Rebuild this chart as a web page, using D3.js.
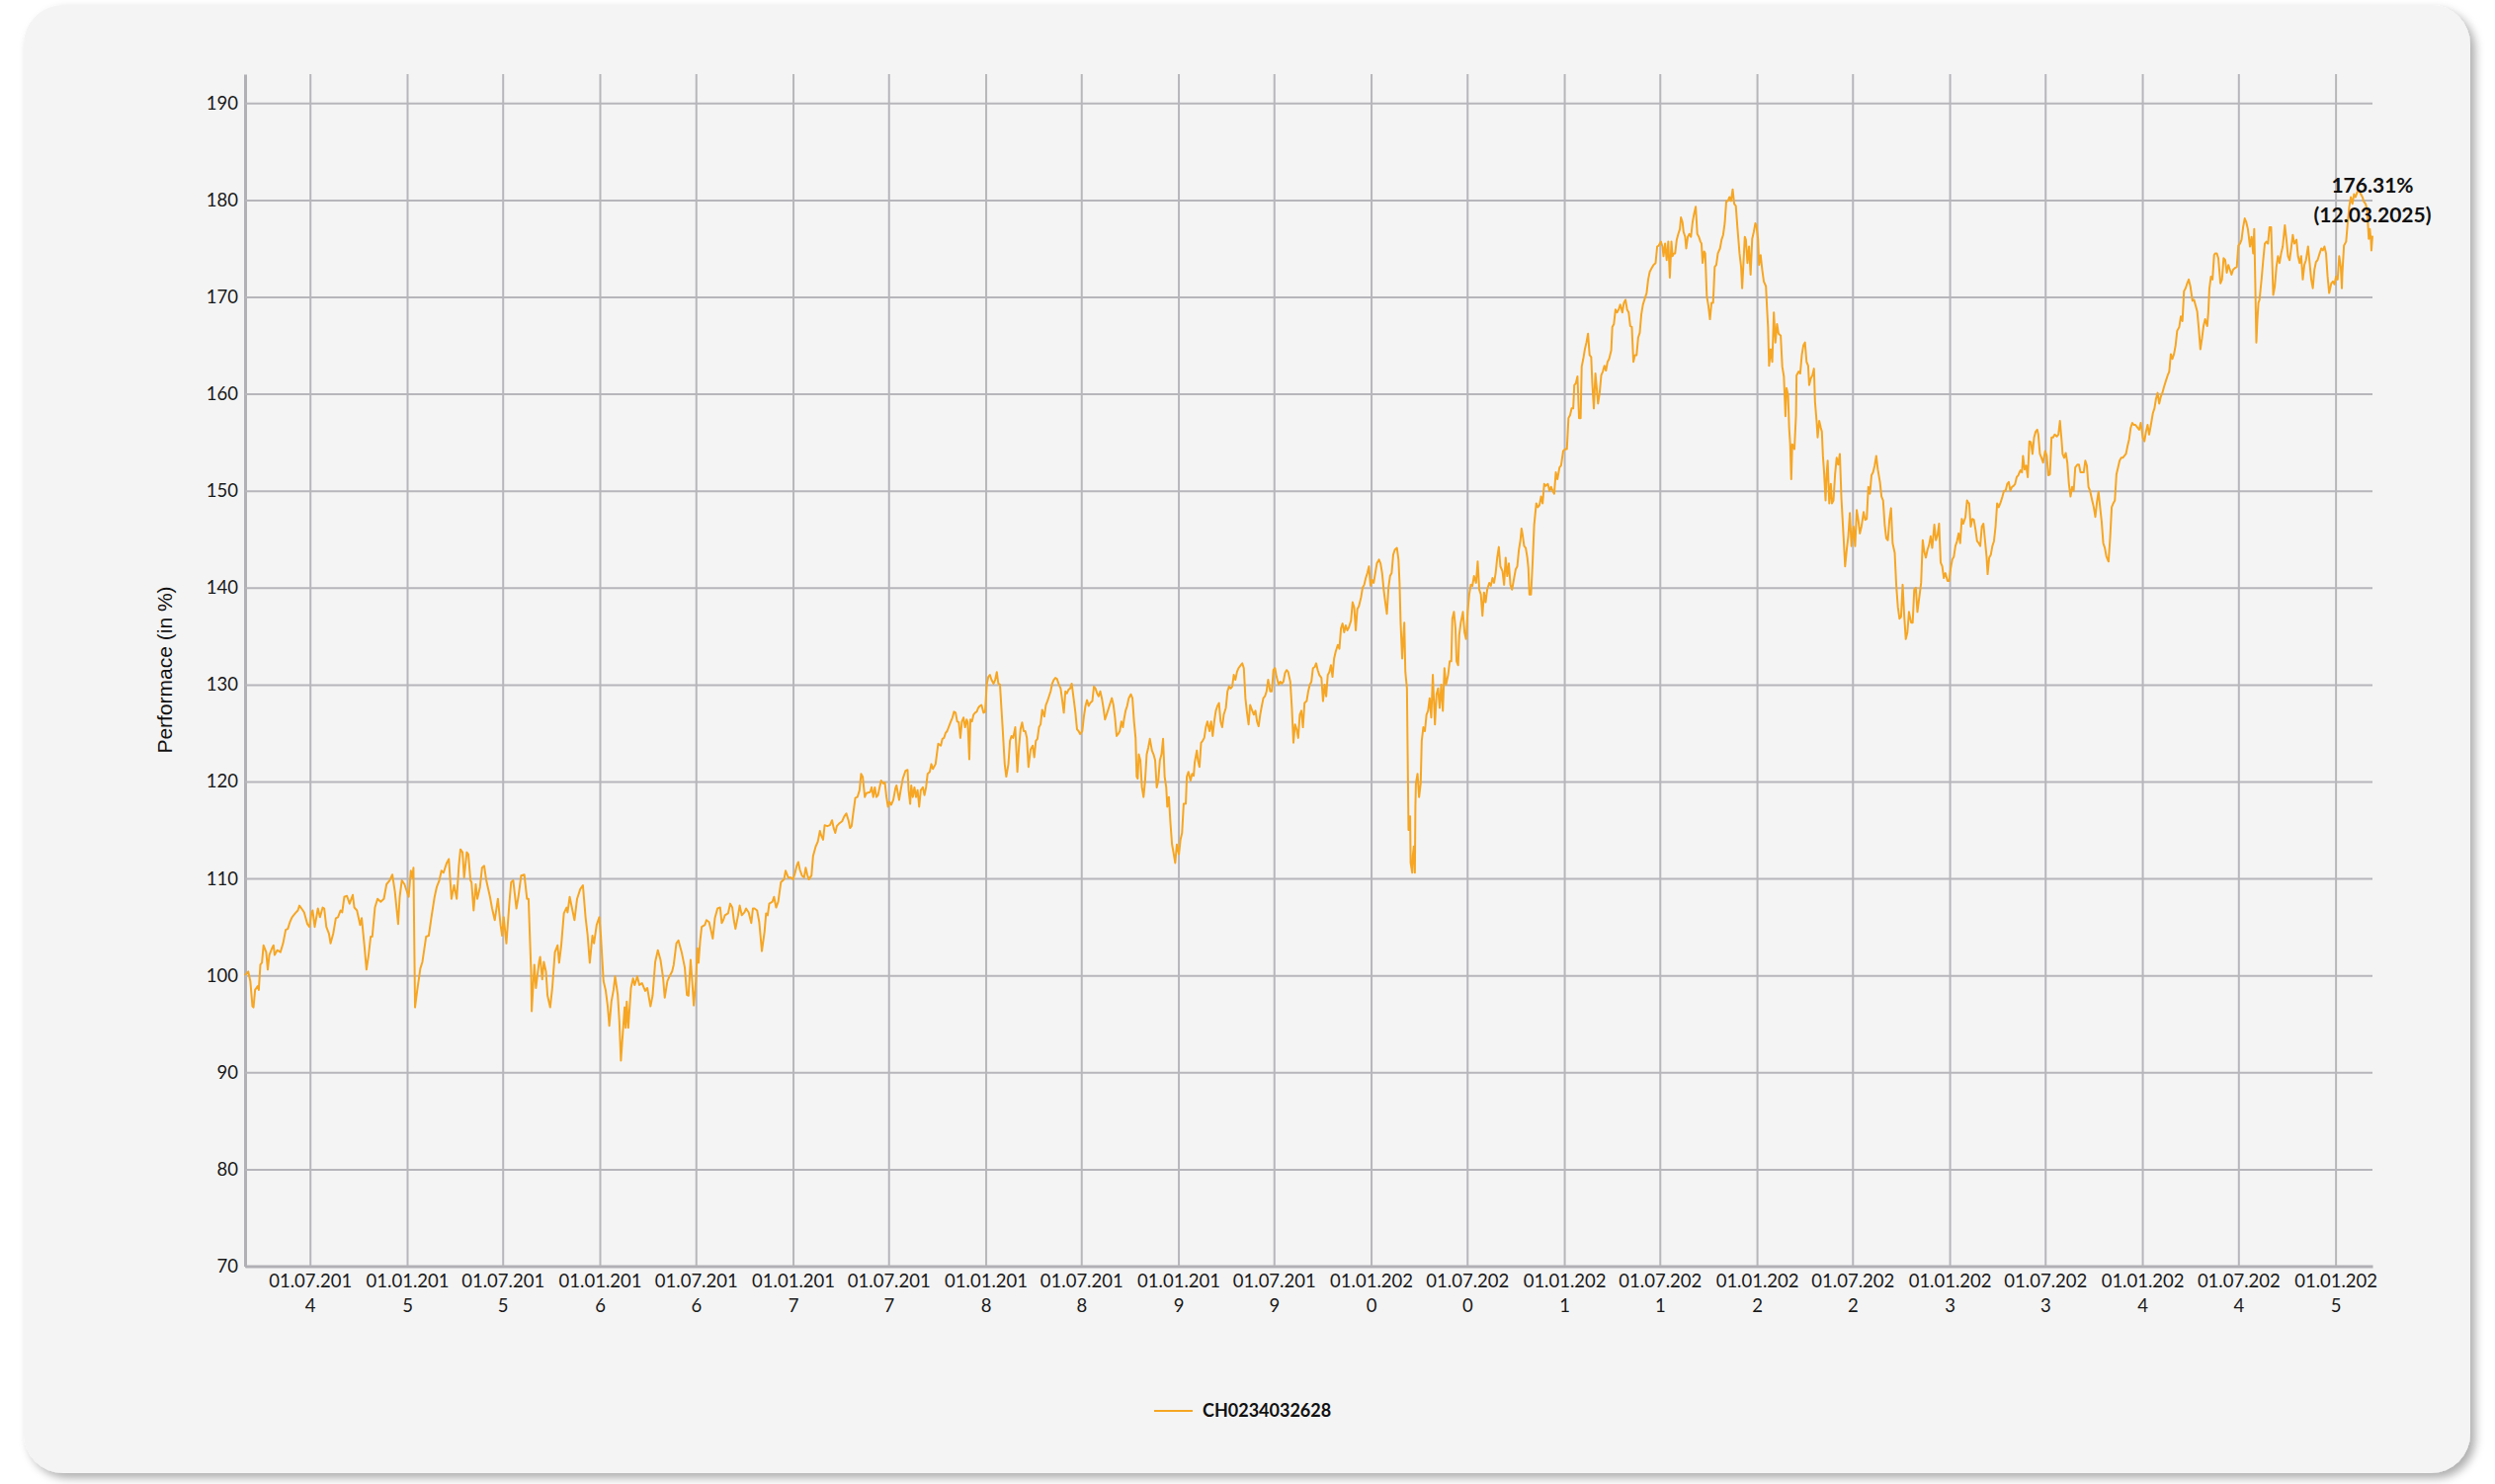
<!DOCTYPE html>
<html>
<head>
<meta charset="utf-8">
<script src="https://cdn.jsdelivr.net/npm/d3@7"></script>
<style>
  body { margin: 0; background: #ffffff; }
  svg { display: block; }
</style>
</head>
<body>
<div id="chart"></div>
<script>
// performance series (in %), one list per year: [date, value]
var s2014 = [["2014-02-28",100.0],["2014-03-06",100.4],["2014-03-10",99.4],["2014-03-14",96.8],["2014-03-16",96.7],["2014-03-19",98.5],["2014-03-24",98.9],["2014-03-26",98.5],["2014-03-29",101.1],["2014-04-01",101.3],["2014-04-04",103.1],["2014-04-09",102.4],["2014-04-12",100.6],["2014-04-15",102.1],["2014-04-20",102.8],["2014-04-23",103.1],["2014-04-25",102.1],["2014-04-30",102.6],["2014-05-06",102.4],["2014-05-11",103.3],["2014-05-16",104.7],["2014-05-20",104.8],["2014-05-24",105.5],["2014-05-28",106.0],["2014-06-03",106.4],["2014-06-08",106.7],["2014-06-11",107.2],["2014-06-15",106.9],["2014-06-20",106.5],["2014-06-26",105.3],["2014-06-30",105.0],["2014-07-04",106.5],["2014-07-06",106.7],["2014-07-10",105.0],["2014-07-16",106.9],["2014-07-20",106.0],["2014-07-25",107.0],["2014-07-28",106.9],["2014-08-01",105.0],["2014-08-06",104.3],["2014-08-09",103.3],["2014-08-14",104.3],["2014-08-19",105.9],["2014-08-23",106.0],["2014-08-28",106.7],["2014-08-31",106.5],["2014-09-04",108.1],["2014-09-09",108.2],["2014-09-14",107.4],["2014-09-20",108.3],["2014-09-23",107.0],["2014-09-28",106.7],["2014-10-04",105.2],["2014-10-07",105.9],["2014-10-12",103.1],["2014-10-16",100.6],["2014-10-20",102.1],["2014-10-24",104.0],["2014-10-27",104.0],["2014-11-01",107.0],["2014-11-06",107.9],["2014-11-12",107.6],["2014-11-18",107.9],["2014-11-23",109.4],["2014-11-29",109.8],["2014-12-04",110.4],["2014-12-09",108.6],["2014-12-15",105.3],["2014-12-18",108.1],["2014-12-22",109.8],["2014-12-27",109.4]];
var s2015 = [["2015-01-04",108.1],["2015-01-08",110.8],["2015-01-11",110.1],["2015-01-13",111.1],["2015-01-16",96.7],["2015-01-20",98.4],["2015-01-26",100.7],["2015-01-30",101.4],["2015-02-06",104.0],["2015-02-11",104.1],["2015-02-16",106.0],["2015-02-22",108.1],["2015-02-26",109.1],["2015-03-03",109.8],["2015-03-07",110.8],["2015-03-11",110.6],["2015-03-17",111.6],["2015-03-21",112.0],["2015-03-26",107.9],["2015-03-31",109.3],["2015-04-05",107.9],["2015-04-09",111.3],["2015-04-12",113.0],["2015-04-16",112.7],["2015-04-19",110.1],["2015-04-24",112.7],["2015-04-27",112.5],["2015-05-01",109.8],["2015-05-03",109.6],["2015-05-07",106.7],["2015-05-11",109.4],["2015-05-14",107.9],["2015-05-19",109.1],["2015-05-23",111.1],["2015-05-27",111.3],["2015-05-31",109.8],["2015-06-07",108.1],["2015-06-11",106.9],["2015-06-16",105.7],["2015-06-22",107.9],["2015-06-27",105.2],["2015-06-30",104.1],["2015-07-03",106.0],["2015-07-08",103.3],["2015-07-11",105.5],["2015-07-14",107.7],["2015-07-17",109.6],["2015-07-21",109.8],["2015-07-27",106.9],["2015-07-31",108.2],["2015-08-05",110.3],["2015-08-11",110.4],["2015-08-16",107.9],["2015-08-19",107.9],["2015-08-24",100.1],["2015-08-25",96.3],["2015-08-30",101.1],["2015-09-02",98.7],["2015-09-08",101.4],["2015-09-10",101.9],["2015-09-14",99.6],["2015-09-17",101.4],["2015-09-21",100.4],["2015-09-24",97.9],["2015-09-29",96.7],["2015-10-03",98.7],["2015-10-08",102.4],["2015-10-13",103.1],["2015-10-16",101.3],["2015-10-20",103.1],["2015-10-25",106.4],["2015-10-30",107.0],["2015-11-01",106.5],["2015-11-05",108.1],["2015-11-14",105.7],["2015-11-19",107.9],["2015-11-25",108.9],["2015-11-30",109.3],["2015-12-05",106.0],["2015-12-09",104.1],["2015-12-13",101.3],["2015-12-18",104.1],["2015-12-21",103.3],["2015-12-26",105.2],["2015-12-31",106.0]];
var s2016 = [["2016-01-03",104.1],["2016-01-08",99.4],["2016-01-12",98.5],["2016-01-16",96.8],["2016-01-19",94.8],["2016-01-23",97.3],["2016-01-27",98.5],["2016-01-30",99.9],["2016-02-04",98.0],["2016-02-07",95.3],["2016-02-10",91.2],["2016-02-13",93.6],["2016-02-17",96.7],["2016-02-19",94.6],["2016-02-21",97.3],["2016-02-24",94.6],["2016-02-29",98.7],["2016-03-04",99.7],["2016-03-07",99.0],["2016-03-12",99.9],["2016-03-16",99.0],["2016-03-21",99.2],["2016-03-27",98.4],["2016-03-31",98.7],["2016-04-06",96.8],["2016-04-10",97.9],["2016-04-15",101.4],["2016-04-20",102.6],["2016-04-25",101.6],["2016-04-30",99.7],["2016-05-03",97.7],["2016-05-08",99.4],["2016-05-12",99.9],["2016-05-17",100.4],["2016-05-20",101.1],["2016-05-25",103.3],["2016-05-29",103.6],["2016-06-04",102.4],["2016-06-10",100.8],["2016-06-14",98.0],["2016-06-17",97.9],["2016-06-21",101.6],["2016-06-24",99.4],["2016-06-27",96.9],["2016-07-01",99.4],["2016-07-04",102.8],["2016-07-06",101.3],["2016-07-09",103.5],["2016-07-12",105.0],["2016-07-18",105.2],["2016-07-21",105.7],["2016-07-26",105.5],["2016-07-29",104.8],["2016-08-02",103.8],["2016-08-06",105.9],["2016-08-11",106.9],["2016-08-16",107.0],["2016-08-19",105.4],["2016-08-22",105.7],["2016-08-25",106.2],["2016-08-31",106.4],["2016-09-04",107.4],["2016-09-08",107.0],["2016-09-11",105.7],["2016-09-14",104.8],["2016-09-19",106.2],["2016-09-22",107.2],["2016-09-26",106.2],["2016-10-01",106.5],["2016-10-04",106.9],["2016-10-09",106.5],["2016-10-14",105.4],["2016-10-17",106.9],["2016-10-20",106.9],["2016-10-25",106.7],["2016-10-29",105.5],["2016-11-03",102.5],["2016-11-08",104.5],["2016-11-11",106.4],["2016-11-14",106.2],["2016-11-17",107.4],["2016-11-23",107.6],["2016-11-26",108.1],["2016-11-30",107.0],["2016-12-04",107.6],["2016-12-09",109.6],["2016-12-15",109.9],["2016-12-18",110.8],["2016-12-23",110.1],["2016-12-28",110.1]];
var s2017 = [["2017-01-01",109.9],["2017-01-05",110.6],["2017-01-08",111.3],["2017-01-11",111.7],["2017-01-14",110.9],["2017-01-18",110.3],["2017-01-22",110.1],["2017-01-25",111.1],["2017-01-28",110.4],["2017-01-31",109.9],["2017-02-05",110.3],["2017-02-08",112.3],["2017-02-13",113.3],["2017-02-17",113.8],["2017-02-21",114.9],["2017-02-23",114.5],["2017-02-27",114.0],["2017-03-02",115.5],["2017-03-07",115.4],["2017-03-12",115.5],["2017-03-16",116.0],["2017-03-19",115.2],["2017-03-22",114.7],["2017-03-25",115.4],["2017-03-30",115.7],["2017-04-04",115.9],["2017-04-08",116.4],["2017-04-12",116.7],["2017-04-16",116.0],["2017-04-19",115.2],["2017-04-22",115.4],["2017-04-25",116.7],["2017-04-29",118.3],["2017-05-03",118.4],["2017-05-07",119.1],["2017-05-10",120.8],["2017-05-13",120.5],["2017-05-17",118.4],["2017-05-20",118.8],["2017-05-27",118.9],["2017-05-30",119.4],["2017-06-02",118.4],["2017-06-05",119.4],["2017-06-08",118.4],["2017-06-11",118.6],["2017-06-14",119.4],["2017-06-17",120.1],["2017-06-21",119.8],["2017-06-24",119.9],["2017-06-27",118.4],["2017-06-30",117.4],["2017-07-03",117.9],["2017-07-06",117.6],["2017-07-10",118.1],["2017-07-14",119.3],["2017-07-16",119.6],["2017-07-21",118.1],["2017-07-24",119.1],["2017-07-28",120.3],["2017-08-02",121.1],["2017-08-06",121.2],["2017-08-08",119.1],["2017-08-11",117.7],["2017-08-13",119.6],["2017-08-16",118.4],["2017-08-19",119.4],["2017-08-22",118.4],["2017-08-25",119.1],["2017-08-28",117.4],["2017-08-31",119.1],["2017-09-04",119.4],["2017-09-07",118.6],["2017-09-10",119.4],["2017-09-13",120.8],["2017-09-17",121.0],["2017-09-20",121.8],["2017-09-23",121.3],["2017-09-28",121.8],["2017-10-03",123.9],["2017-10-08",123.7],["2017-10-11",124.4],["2017-10-14",124.5],["2017-10-17",125.0],["2017-10-20",125.2],["2017-10-27",126.2],["2017-10-30",126.6],["2017-11-02",127.2],["2017-11-05",127.1],["2017-11-08",126.2],["2017-11-11",126.1],["2017-11-14",124.5],["2017-11-17",126.2],["2017-11-20",126.6],["2017-11-23",125.6],["2017-11-26",126.4],["2017-11-28",126.1],["2017-12-01",122.3],["2017-12-03",126.4],["2017-12-06",126.2],["2017-12-09",126.9],["2017-12-12",127.1],["2017-12-15",127.2],["2017-12-18",127.6],["2017-12-21",127.8],["2017-12-24",127.9],["2017-12-28",127.1],["2017-12-31",127.2]];
var s2018 = [["2018-01-03",130.0],["2018-01-06",130.8],["2018-01-09",131.0],["2018-01-12",130.5],["2018-01-16",130.1],["2018-01-19",130.5],["2018-01-22",131.3],["2018-01-25",130.1],["2018-01-28",130.0],["2018-02-02",125.6],["2018-02-06",121.8],["2018-02-09",120.5],["2018-02-13",121.8],["2018-02-16",124.2],["2018-02-19",124.7],["2018-02-22",124.5],["2018-02-26",125.6],["2018-03-02",121.0],["2018-03-05",123.5],["2018-03-08",125.4],["2018-03-11",126.1],["2018-03-14",125.2],["2018-03-17",125.2],["2018-03-20",124.5],["2018-03-23",121.5],["2018-03-27",123.3],["2018-03-31",123.7],["2018-04-03",122.5],["2018-04-06",124.2],["2018-04-09",124.4],["2018-04-12",125.6],["2018-04-15",125.9],["2018-04-18",127.4],["2018-04-22",126.7],["2018-04-25",127.9],["2018-04-28",128.3],["2018-05-01",128.8],["2018-05-04",129.3],["2018-05-07",130.1],["2018-05-10",130.5],["2018-05-13",130.7],["2018-05-16",130.6],["2018-05-19",130.1],["2018-05-23",129.6],["2018-05-26",128.4],["2018-05-29",127.1],["2018-06-01",129.3],["2018-06-04",129.1],["2018-06-07",129.5],["2018-06-10",129.6],["2018-06-13",130.1],["2018-06-17",128.4],["2018-06-20",127.1],["2018-06-23",125.4],["2018-06-26",125.2],["2018-06-29",124.9],["2018-07-03",125.2],["2018-07-06",126.7],["2018-07-09",127.8],["2018-07-12",128.4],["2018-07-15",127.8],["2018-07-18",128.1],["2018-07-22",128.3],["2018-07-25",129.8],["2018-07-28",129.6],["2018-07-31",129.1],["2018-08-03",128.8],["2018-08-06",129.3],["2018-08-09",128.6],["2018-08-12",127.6],["2018-08-15",126.4],["2018-08-18",126.9],["2018-08-21",127.4],["2018-08-25",128.1],["2018-08-28",128.6],["2018-08-31",127.9],["2018-09-03",126.6],["2018-09-06",124.7],["2018-09-09",124.9],["2018-09-12",125.2],["2018-09-15",126.2],["2018-09-18",125.6],["2018-09-20",126.4],["2018-09-23",127.3],["2018-09-26",127.8],["2018-09-29",128.6],["2018-10-03",129.0],["2018-10-06",128.6],["2018-10-09",126.2],["2018-10-12",124.5],["2018-10-14",120.5],["2018-10-16",120.3],["2018-10-18",122.8],["2018-10-21",122.2],["2018-10-24",119.4],["2018-10-27",118.4],["2018-10-30",120.1],["2018-11-02",122.8],["2018-11-05",123.5],["2018-11-08",124.4],["2018-11-12",123.2],["2018-11-15",122.8],["2018-11-18",122.2],["2018-11-21",119.4],["2018-11-24",120.1],["2018-11-27",122.2],["2018-11-30",122.8],["2018-12-03",124.4],["2018-12-06",120.5],["2018-12-09",119.4],["2018-12-11",117.4],["2018-12-14",118.4],["2018-12-17",115.7],["2018-12-20",113.5],["2018-12-23",112.6],["2018-12-26",111.6],["2018-12-29",113.5]];
var s2019 = [["2019-01-02",112.5],["2019-01-05",114.0],["2019-01-08",114.7],["2019-01-11",117.7],["2019-01-15",117.7],["2019-01-17",120.5],["2019-01-20",121.0],["2019-01-24",120.1],["2019-01-27",120.8],["2019-01-30",120.6],["2019-02-01",122.0],["2019-02-05",123.2],["2019-02-07",122.2],["2019-02-10",121.5],["2019-02-13",124.0],["2019-02-16",124.2],["2019-02-19",124.5],["2019-02-22",125.6],["2019-02-25",126.2],["2019-03-01",125.2],["2019-03-04",126.2],["2019-03-07",124.7],["2019-03-10",126.2],["2019-03-13",127.3],["2019-03-16",127.8],["2019-03-19",128.1],["2019-03-22",126.2],["2019-03-25",125.6],["2019-03-28",126.9],["2019-04-01",127.6],["2019-04-04",129.3],["2019-04-07",129.8],["2019-04-10",129.6],["2019-04-13",129.8],["2019-04-16",131.0],["2019-04-19",130.5],["2019-04-22",131.3],["2019-04-25",131.7],["2019-04-29",132.0],["2019-05-02",132.2],["2019-05-05",131.7],["2019-05-08",128.6],["2019-05-11",127.1],["2019-05-14",125.9],["2019-05-17",127.9],["2019-05-21",127.3],["2019-05-24",126.9],["2019-05-27",127.3],["2019-05-30",126.2],["2019-06-02",125.7],["2019-06-05",126.9],["2019-06-08",127.8],["2019-06-11",128.6],["2019-06-14",128.8],["2019-06-17",129.3],["2019-06-20",130.5],["2019-06-24",129.3],["2019-06-27",129.3],["2019-06-30",131.5],["2019-07-03",131.7],["2019-07-06",130.8],["2019-07-10",130.0],["2019-07-13",130.3],["2019-07-16",130.1],["2019-07-19",130.3],["2019-07-22",131.2],["2019-07-25",131.5],["2019-07-28",131.3],["2019-08-01",130.3],["2019-08-04",127.6],["2019-08-07",124.0],["2019-08-10",125.9],["2019-08-13",125.4],["2019-08-16",124.5],["2019-08-19",126.9],["2019-08-22",127.3],["2019-08-25",125.6],["2019-08-28",128.1],["2019-09-01",128.3],["2019-09-04",129.3],["2019-09-07",130.0],["2019-09-10",130.3],["2019-09-13",131.7],["2019-09-16",131.8],["2019-09-19",132.2],["2019-09-22",131.5],["2019-09-25",131.0],["2019-09-29",130.7],["2019-10-02",128.3],["2019-10-05",130.0],["2019-10-08",128.8],["2019-10-11",131.0],["2019-10-14",131.3],["2019-10-17",132.0],["2019-10-20",130.8],["2019-10-23",132.7],["2019-10-26",133.4],["2019-10-30",134.1],["2019-11-02",133.7],["2019-11-05",135.8],["2019-11-08",136.3],["2019-11-11",135.4],["2019-11-14",136.1],["2019-11-17",135.6],["2019-11-20",135.9],["2019-11-24",136.6],["2019-11-27",138.5],["2019-11-30",138.0],["2019-12-03",135.6],["2019-12-06",137.8],["2019-12-09",138.1],["2019-12-13",139.0],["2019-12-16",140.0],["2019-12-19",140.3],["2019-12-22",141.0],["2019-12-25",141.5],["2019-12-28",142.2],["2019-12-31",140.2]];
var s2020 = [["2020-01-03",140.8],["2020-01-06",140.5],["2020-01-09",141.5],["2020-01-12",142.5],["2020-01-16",142.9],["2020-01-19",142.5],["2020-01-22",141.5],["2020-01-25",139.8],["2020-01-28",138.5],["2020-01-31",137.3],["2020-02-03",140.0],["2020-02-06",141.2],["2020-02-09",141.5],["2020-02-12",143.4],["2020-02-15",143.9],["2020-02-19",144.1],["2020-02-22",142.9],["2020-02-24",140.5],["2020-02-26",136.4],["2020-02-29",132.7],["2020-03-02",134.7],["2020-03-04",136.4],["2020-03-06",131.3],["2020-03-09",129.6],["2020-03-10",124.5],["2020-03-12",115.0],["2020-03-15",116.4],["2020-03-16",111.6],["2020-03-19",110.6],["2020-03-20",112.3],["2020-03-22",113.3],["2020-03-24",110.6],["2020-03-25",117.4],["2020-03-26",119.8],["2020-03-29",120.8],["2020-04-01",118.4],["2020-04-04",119.8],["2020-04-06",124.2],["2020-04-09",125.6],["2020-04-12",125.2],["2020-04-15",126.9],["2020-04-18",127.3],["2020-04-21",128.6],["2020-04-24",126.6],["2020-04-27",131.0],["2020-05-01",125.9],["2020-05-04",129.0],["2020-05-07",129.6],["2020-05-10",127.6],["2020-05-13",130.0],["2020-05-16",127.3],["2020-05-19",131.7],["2020-05-22",130.0],["2020-05-26",131.0],["2020-05-29",132.4],["2020-06-01",132.4],["2020-06-03",136.8],["2020-06-06",137.5],["2020-06-09",135.8],["2020-06-11",132.4],["2020-06-14",132.0],["2020-06-16",135.1],["2020-06-19",136.4],["2020-06-23",137.5],["2020-06-26",135.4],["2020-06-29",134.7],["2020-07-02",137.5],["2020-07-05",139.3],["2020-07-08",140.3],["2020-07-11",140.2],["2020-07-14",141.2],["2020-07-18",140.5],["2020-07-21",142.7],["2020-07-24",139.8],["2020-07-27",139.3],["2020-07-30",137.1],["2020-08-02",139.5],["2020-08-05",138.5],["2020-08-08",139.8],["2020-08-12",140.5],["2020-08-15",140.2],["2020-08-18",141.0],["2020-08-21",140.5],["2020-08-24",141.5],["2020-08-27",143.1],["2020-08-30",144.2],["2020-09-02",142.2],["2020-09-06",141.7],["2020-09-09",140.3],["2020-09-12",143.1],["2020-09-15",141.2],["2020-09-18",142.5],["2020-09-21",140.3],["2020-09-24",139.8],["2020-09-28",141.0],["2020-10-01",141.9],["2020-10-04",142.2],["2020-10-07",143.9],["2020-10-10",144.9],["2020-10-12",146.1],["2020-10-14",145.5],["2020-10-17",144.3],["2020-10-20",144.1],["2020-10-23",143.1],["2020-10-25",142.0],["2020-10-27",139.3],["2020-10-30",139.3],["2020-11-02",142.6],["2020-11-05",146.5],["2020-11-09",148.7],["2020-11-12",148.3],["2020-11-15",148.5],["2020-11-18",149.4],["2020-11-21",148.7],["2020-11-24",150.7],["2020-11-27",150.5],["2020-12-01",150.7],["2020-12-04",150.0],["2020-12-07",150.4],["2020-12-10",150.0],["2020-12-13",149.7],["2020-12-16",151.9],["2020-12-19",151.2],["2020-12-23",152.4],["2020-12-26",152.6],["2020-12-30",154.1]];
var s2021 = [["2021-01-03",154.3],["2021-01-06",154.3],["2021-01-09",157.5],["2021-01-12",157.8],["2021-01-15",158.5],["2021-01-18",158.5],["2021-01-20",160.9],["2021-01-23",161.1],["2021-01-26",161.8],["2021-01-29",157.5],["2021-02-01",157.5],["2021-02-03",162.8],["2021-02-06",163.6],["2021-02-09",164.6],["2021-02-12",165.3],["2021-02-15",166.2],["2021-02-18",164.0],["2021-02-21",163.8],["2021-02-23",161.2],["2021-02-26",158.5],["2021-03-01",162.1],["2021-03-03",160.9],["2021-03-06",159.0],["2021-03-09",160.1],["2021-03-12",161.9],["2021-03-15",162.3],["2021-03-18",162.9],["2021-03-21",162.4],["2021-03-24",163.3],["2021-03-27",163.6],["2021-03-31",164.5],["2021-04-02",166.9],["2021-04-05",167.2],["2021-04-08",168.7],["2021-04-11",168.4],["2021-04-14",168.7],["2021-04-17",169.2],["2021-04-21",168.4],["2021-04-24",169.4],["2021-04-27",169.7],["2021-04-30",168.7],["2021-05-03",168.4],["2021-05-06",167.0],["2021-05-09",166.9],["2021-05-12",163.3],["2021-05-15",164.0],["2021-05-18",164.0],["2021-05-21",165.8],["2021-05-24",166.3],["2021-05-27",168.2],["2021-05-30",169.2],["2021-06-03",169.9],["2021-06-06",170.4],["2021-06-09",171.8],["2021-06-12",172.6],["2021-06-16",173.0],["2021-06-19",173.3],["2021-06-23",173.5],["2021-06-26",175.2],["2021-06-29",175.3],["2021-07-03",175.7],["2021-07-06",175.2],["2021-07-08",174.2],["2021-07-11",175.5],["2021-07-14",173.8],["2021-07-17",175.7],["2021-07-20",172.0],["2021-07-23",175.7],["2021-07-25",174.2],["2021-07-28",174.5],["2021-07-30",174.5],["2021-08-02",175.9],["2021-08-05",176.5],["2021-08-08",177.0],["2021-08-10",178.2],["2021-08-13",177.7],["2021-08-15",176.7],["2021-08-18",176.2],["2021-08-20",175.0],["2021-08-23",176.2],["2021-08-26",176.5],["2021-08-29",176.2],["2021-09-01",177.7],["2021-09-04",178.6],["2021-09-07",179.3],["2021-09-10",176.5],["2021-09-13",176.2],["2021-09-16",175.7],["2021-09-18",175.5],["2021-09-20",173.5],["2021-09-23",174.7],["2021-09-25",174.5],["2021-09-28",170.1],["2021-10-01",169.1],["2021-10-04",167.7],["2021-10-07",169.4],["2021-10-10",169.4],["2021-10-13",173.1],["2021-10-16",173.3],["2021-10-19",174.5],["2021-10-23",175.0],["2021-10-26",175.9],["2021-10-29",176.4],["2021-11-01",177.6],["2021-11-04",179.9],["2021-11-07",179.9],["2021-11-10",180.3],["2021-11-13",179.9],["2021-11-16",181.1],["2021-11-19",179.6],["2021-11-22",179.4],["2021-11-25",177.2],["2021-11-29",174.5],["2021-12-02",173.1],["2021-12-04",170.9],["2021-12-06",173.0],["2021-12-09",176.2],["2021-12-11",175.9],["2021-12-14",173.5],["2021-12-17",175.2],["2021-12-20",172.3],["2021-12-23",176.0],["2021-12-26",176.7],["2021-12-29",177.6],["2021-12-31",177.4]];
var s2022 = [["2022-01-03",176.0],["2022-01-05",173.3],["2022-01-08",174.3],["2022-01-11",172.8],["2022-01-14",171.6],["2022-01-18",171.1],["2022-01-20",168.9],["2022-01-22",166.9],["2022-01-24",162.9],["2022-01-27",164.6],["2022-01-30",163.3],["2022-02-02",168.4],["2022-02-05",165.3],["2022-02-08",167.2],["2022-02-11",166.2],["2022-02-15",166.0],["2022-02-18",162.8],["2022-02-21",161.8],["2022-02-24",157.7],["2022-02-26",160.6],["2022-03-01",159.9],["2022-03-03",156.5],["2022-03-05",154.8],["2022-03-07",151.2],["2022-03-09",154.8],["2022-03-13",154.3],["2022-03-16",157.8],["2022-03-17",161.9],["2022-03-21",162.3],["2022-03-24",162.1],["2022-03-27",164.0],["2022-03-30",165.0],["2022-04-02",165.3],["2022-04-05",163.3],["2022-04-08",162.9],["2022-04-10",160.9],["2022-04-13",161.6],["2022-04-16",161.9],["2022-04-19",162.6],["2022-04-21",159.2],["2022-04-24",157.2],["2022-04-26",155.5],["2022-04-29",157.2],["2022-05-02",156.5],["2022-05-04",156.1],["2022-05-06",153.6],["2022-05-08",152.1],["2022-05-11",149.0],["2022-05-13",151.7],["2022-05-15",153.1],["2022-05-18",148.7],["2022-05-21",150.7],["2022-05-23",148.7],["2022-05-26",149.0],["2022-05-29",151.7],["2022-06-01",153.4],["2022-06-04",152.7],["2022-06-07",153.8],["2022-06-10",149.2],["2022-06-14",145.3],["2022-06-17",142.2],["2022-06-20",143.9],["2022-06-23",145.3],["2022-06-26",147.7],["2022-06-29",144.3],["2022-07-03",146.3],["2022-07-06",144.3],["2022-07-09",148.0],["2022-07-12",147.0],["2022-07-15",145.6],["2022-07-18",146.3],["2022-07-22",147.8],["2022-07-25",147.0],["2022-07-28",147.1],["2022-07-31",150.4],["2022-08-03",149.7],["2022-08-06",151.6],["2022-08-09",151.9],["2022-08-12",152.6],["2022-08-15",153.6],["2022-08-18",152.2],["2022-08-22",150.9],["2022-08-25",149.4],["2022-08-28",149.0],["2022-08-31",146.5],["2022-09-03",145.1],["2022-09-06",144.9],["2022-09-09",147.0],["2022-09-12",148.2],["2022-09-15",144.6],["2022-09-19",143.6],["2022-09-22",140.2],["2022-09-25",138.0],["2022-09-28",136.8],["2022-10-01",137.0],["2022-10-04",140.3],["2022-10-07",137.1],["2022-10-10",134.7],["2022-10-13",135.4],["2022-10-16",137.5],["2022-10-20",136.4],["2022-10-23",136.4],["2022-10-26",139.8],["2022-10-29",140.0],["2022-11-01",137.5],["2022-11-04",138.8],["2022-11-08",140.5],["2022-11-11",144.9],["2022-11-14",143.7],["2022-11-17",143.1],["2022-11-20",143.9],["2022-11-23",144.4],["2022-11-26",145.3],["2022-11-29",144.1],["2022-12-03",146.5],["2022-12-06",144.9],["2022-12-09",145.4],["2022-12-12",146.6],["2022-12-15",142.6],["2022-12-18",142.2],["2022-12-21",141.0],["2022-12-24",141.5],["2022-12-28",140.7],["2022-12-31",140.7]];
var s2023 = [["2023-01-03",142.0],["2023-01-06",142.9],["2023-01-09",143.2],["2023-01-12",144.3],["2023-01-15",144.8],["2023-01-18",145.6],["2023-01-21",144.6],["2023-01-24",147.1],["2023-01-27",146.6],["2023-01-31",147.3],["2023-02-03",149.0],["2023-02-05",148.8],["2023-02-07",148.7],["2023-02-10",146.3],["2023-02-13",147.1],["2023-02-16",147.0],["2023-02-19",146.0],["2023-02-22",144.8],["2023-02-25",144.6],["2023-02-28",144.3],["2023-03-03",146.3],["2023-03-06",146.6],["2023-03-09",144.9],["2023-03-12",143.2],["2023-03-14",141.4],["2023-03-17",143.1],["2023-03-20",143.4],["2023-03-23",144.3],["2023-03-26",144.8],["2023-03-29",146.3],["2023-04-01",148.7],["2023-04-04",148.3],["2023-04-07",148.7],["2023-04-11",149.4],["2023-04-14",150.0],["2023-04-17",150.0],["2023-04-20",150.7],["2023-04-23",150.9],["2023-04-26",150.0],["2023-04-29",150.4],["2023-05-02",150.5],["2023-05-05",150.7],["2023-05-08",151.4],["2023-05-11",151.6],["2023-05-15",152.1],["2023-05-18",151.9],["2023-05-20",153.6],["2023-05-23",152.2],["2023-05-26",152.6],["2023-05-29",151.4],["2023-06-01",155.1],["2023-06-04",155.0],["2023-06-07",153.8],["2023-06-10",155.5],["2023-06-13",156.1],["2023-06-16",156.3],["2023-06-18",155.8],["2023-06-21",153.8],["2023-06-24",153.4],["2023-06-27",152.9],["2023-07-01",154.1],["2023-07-04",153.6],["2023-07-07",151.6],["2023-07-10",151.7],["2023-07-13",155.5],["2023-07-16",155.5],["2023-07-19",155.8],["2023-07-23",155.6],["2023-07-26",155.8],["2023-07-29",157.2],["2023-08-01",155.3],["2023-08-03",153.8],["2023-08-06",153.4],["2023-08-09",153.9],["2023-08-12",152.9],["2023-08-15",150.7],["2023-08-18",149.4],["2023-08-21",150.4],["2023-08-24",150.0],["2023-08-27",152.4],["2023-08-31",152.7],["2023-09-03",152.7],["2023-09-06",151.9],["2023-09-09",151.9],["2023-09-12",151.9],["2023-09-15",153.1],["2023-09-18",152.6],["2023-09-21",150.4],["2023-09-24",150.0],["2023-09-28",149.0],["2023-10-01",148.3],["2023-10-04",147.3],["2023-10-07",148.8],["2023-10-10",149.9],["2023-10-13",148.3],["2023-10-16",146.8],["2023-10-19",144.6],["2023-10-22",144.1],["2023-10-25",143.2],["2023-10-29",142.7],["2023-11-01",145.1],["2023-11-04",148.3],["2023-11-07",148.7],["2023-11-10",149.0],["2023-11-13",151.7],["2023-11-16",152.4],["2023-11-19",153.1],["2023-11-22",153.4],["2023-11-25",153.4],["2023-11-28",153.6],["2023-12-01",153.8],["2023-12-04",154.6],["2023-12-07",155.3],["2023-12-10",156.5],["2023-12-13",157.0],["2023-12-16",156.8],["2023-12-19",156.8],["2023-12-23",156.5],["2023-12-26",156.3],["2023-12-29",157.0]];
var s2024 = [["2024-01-02",155.5],["2024-01-05",155.1],["2024-01-08",156.1],["2024-01-11",156.8],["2024-01-14",155.8],["2024-01-17",156.7],["2024-01-21",158.0],["2024-01-24",158.5],["2024-01-27",159.5],["2024-01-30",160.1],["2024-02-02",159.0],["2024-02-05",159.7],["2024-02-08",160.1],["2024-02-11",160.7],["2024-02-15",161.4],["2024-02-18",161.9],["2024-02-21",162.3],["2024-02-24",164.1],["2024-02-27",163.6],["2024-03-01",164.1],["2024-03-04",165.0],["2024-03-07",166.5],["2024-03-11",166.9],["2024-03-14",168.0],["2024-03-17",167.5],["2024-03-20",170.6],["2024-03-23",170.9],["2024-03-26",171.4],["2024-03-29",171.8],["2024-04-01",171.1],["2024-04-05",169.6],["2024-04-08",169.7],["2024-04-11",169.1],["2024-04-14",168.5],["2024-04-17",166.7],["2024-04-20",164.6],["2024-04-23",165.7],["2024-04-26",167.0],["2024-04-29",167.7],["2024-05-03",167.0],["2024-05-05",168.4],["2024-05-07",170.8],["2024-05-10",172.1],["2024-05-13",171.8],["2024-05-16",174.3],["2024-05-18",174.5],["2024-05-21",174.5],["2024-05-24",174.0],["2024-05-28",171.4],["2024-05-31",171.8],["2024-06-03",174.0],["2024-06-06",173.8],["2024-06-09",172.5],["2024-06-12",173.3],["2024-06-15",172.8],["2024-06-18",172.3],["2024-06-21",172.8],["2024-06-25",173.0],["2024-06-28",173.1],["2024-07-01",175.3],["2024-07-04",175.5],["2024-07-07",175.9],["2024-07-10",177.2],["2024-07-13",178.1],["2024-07-16",177.7],["2024-07-19",177.0],["2024-07-23",175.2],["2024-07-26",176.2],["2024-07-29",174.5],["2024-07-31",177.0],["2024-08-02",171.4],["2024-08-04",165.3],["2024-08-06",167.7],["2024-08-08",169.4],["2024-08-10",169.7],["2024-08-14",171.9],["2024-08-17",173.8],["2024-08-20",175.5],["2024-08-23",175.7],["2024-08-26",175.5],["2024-08-29",177.2],["2024-09-01",177.2],["2024-09-05",170.2],["2024-09-08",171.1],["2024-09-11",173.1],["2024-09-14",174.2],["2024-09-17",173.5],["2024-09-20",174.5],["2024-09-23",175.2],["2024-09-27",177.4],["2024-09-30",175.9],["2024-10-03",174.2],["2024-10-06",173.8],["2024-10-09",175.0],["2024-10-12",176.4],["2024-10-15",175.5],["2024-10-19",175.9],["2024-10-22",174.2],["2024-10-25",173.5],["2024-10-28",174.2],["2024-10-31",171.8],["2024-11-03",173.3],["2024-11-06",173.8],["2024-11-10",175.2],["2024-11-13",173.5],["2024-11-16",171.8],["2024-11-19",170.9],["2024-11-22",172.8],["2024-11-25",173.6],["2024-11-28",173.8],["2024-12-02",174.5],["2024-12-05",175.0],["2024-12-08",174.8],["2024-12-11",175.2],["2024-12-14",174.5],["2024-12-17",172.1],["2024-12-20",170.4],["2024-12-24",171.4],["2024-12-27",171.6],["2024-12-30",171.3]];
var s2025 = [["2025-01-02",172.1],["2025-01-05",171.8],["2025-01-08",174.2],["2025-01-11",173.1],["2025-01-13",170.9],["2025-01-14",172.5],["2025-01-17",175.3],["2025-01-21",175.7],["2025-01-24",177.6],["2025-01-27",179.3],["2025-01-30",180.3],["2025-02-02",179.6],["2025-02-05",180.6],["2025-02-08",180.3],["2025-02-11",180.8],["2025-02-15",181.0],["2025-02-18",180.6],["2025-02-21",180.3],["2025-02-24",179.8],["2025-02-27",179.6],["2025-03-02",178.9],["2025-03-05",176.0],["2025-03-07",177.0],["2025-03-09",175.9],["2025-03-10",174.8],["2025-03-12",176.31]];

var yTicks = [70, 80, 90, 100, 110, 120, 130, 140, 150, 160, 170, 180, 190];
var xTicks = ["2014-07-01","2015-01-01","2015-07-01","2016-01-01","2016-07-01","2017-01-01","2017-07-01","2018-01-01","2018-07-01","2019-01-01","2019-07-01","2020-01-01","2020-07-01","2021-01-01","2021-07-01","2022-01-01","2022-07-01","2023-01-01","2023-07-01","2024-01-01","2024-07-01","2025-01-01"];
var seriesName = "CH0234032628";
var yTitle = "Performace (in %)";
var lastValueLabel = "176.31%";
var lastDateLabel = "(12.03.2025)";

var parse = d3.timeParse("%Y-%m-%d");
var data = [].concat(s2014, s2015, s2016, s2017, s2018, s2019, s2020, s2021, s2022, s2023, s2024, s2025)
  .map(function(d) { return {date: parse(d[0]), value: d[1]}; });

var W = 2525, H = 1502;
var margin = {top: 74.9, left: 248},
    width = 2153,
    height = 1206.6;
var lineColor = "#f6a623", gridColor = "#b6b6bb";

var svg = d3.select("#chart").append("svg")
    .attr("width", W)
    .attr("height", H);

// panel with shadow
var defs = svg.append("defs");
var f = defs.append("filter").attr("id", "shadow")
    .attr("x", "-5%").attr("y", "-5%").attr("width", "110%").attr("height", "110%");
f.append("feDropShadow").attr("dx", 5).attr("dy", 5).attr("stdDeviation", 5)
    .attr("flood-color", "#000").attr("flood-opacity", 0.32);
svg.append("rect")
    .attr("x", 24).attr("y", 5)
    .attr("width", 2476).attr("height", 1486)
    .attr("rx", 40).attr("ry", 40)
    .attr("fill", "#f4f4f4")
    .attr("filter", "url(#shadow)");

var g = svg.append("g")
    .attr("transform", "translate(" + margin.left + "," + margin.top + ")");

var x = d3.scaleTime()
    .domain([data[0].date, data[data.length - 1].date])
    .range([0, width]);
var y = d3.scaleLinear()
    .domain([70, 193])
    .range([height, 0]);

// Y axis + horizontal grid
var yAxis = g.append("g")
    .call(d3.axisLeft(y).tickValues(yTicks).tickSize(-width).tickSizeOuter(0).tickPadding(7));
yAxis.selectAll(".tick line").attr("stroke", gridColor).attr("stroke-width", 2);
yAxis.select(".domain").attr("stroke", "#b0b0b5").attr("stroke-width", 3);
yAxis.selectAll(".tick text")
    .attr("font-family", "Lato, 'Open Sans', sans-serif")
    .attr("font-size", 18.5)
    .attr("fill", "#1a1a1a");

// X axis + vertical grid
var fmt = d3.timeFormat("%d.%m.%Y");
var xAxis = g.append("g")
    .attr("transform", "translate(0," + height + ")")
    .call(d3.axisBottom(x).tickValues(xTicks.map(parse)).tickSize(-height).tickSizeOuter(0).tickFormat(fmt));
xAxis.selectAll(".tick line").attr("stroke", gridColor).attr("stroke-width", 2);
xAxis.select(".domain").attr("stroke", "#b0b0b5").attr("stroke-width", 3);
xAxis.selectAll(".tick text").each(function(d) {
  var s = fmt(d);
  var t = d3.select(this).text(null).attr("dy", null).attr("y", null)
      .attr("font-family", "Lato, 'Open Sans', sans-serif")
      .attr("font-size", 18.5)
      .attr("fill", "#1a1a1a");
  t.append("tspan").attr("x", 0).attr("y", 21).text(s.slice(0, 9));
  t.append("tspan").attr("x", 0).attr("y", 46.5).text(s.slice(9));
});

// Y axis title
svg.append("text")
    .attr("transform", "translate(174," + 678 + ") rotate(-90)")
    .attr("text-anchor", "middle")
    .attr("font-family", "'Liberation Sans', Arial, sans-serif")
    .attr("font-size", 21)
    .attr("fill", "#111")
    .text(yTitle);

// line
var line = d3.line()
    .x(function(d) { return x(d.date); })
    .y(function(d) { return y(d.value); });
g.append("path")
    .datum(data)
    .attr("fill", "none")
    .attr("stroke", lineColor)
    .attr("stroke-width", 2)
    .attr("stroke-linejoin", "round")
    .attr("d", line);

// last value label
var last = data[data.length - 1];
var lbl = g.append("text")
    .attr("text-anchor", "middle")
    .attr("font-family", "Lato, 'Open Sans', sans-serif")
    .attr("font-weight", "bold")
    .attr("font-size", 21)
    .attr("fill", "#111");
lbl.append("tspan").attr("x", x(last.date)).attr("y", 195 - margin.top).text(lastValueLabel);
lbl.append("tspan").attr("x", x(last.date)).attr("y", 225 - margin.top).text(lastDateLabel);

// legend
var legend = svg.append("g").attr("transform", "translate(1168,1428)");
legend.append("line")
    .attr("x1", 0).attr("x2", 39)
    .attr("stroke", lineColor).attr("stroke-width", 2);
legend.append("text")
    .attr("x", 49).attr("y", 6)
    .attr("font-family", "Lato, 'Open Sans', sans-serif")
    .attr("font-weight", "bold")
    .attr("font-size", 18)
    .attr("fill", "#111")
    .text(seriesName);
</script>
</body>
</html>
